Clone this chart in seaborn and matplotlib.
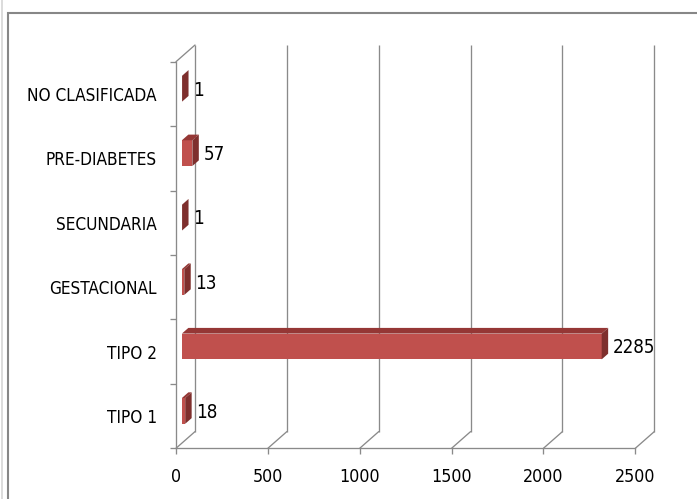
import matplotlib
matplotlib.use("Agg")
import matplotlib.pyplot as plt
import matplotlib.transforms as mtransforms
from matplotlib.patches import Polygon, Rectangle
from matplotlib.lines import Line2D
import numpy as np
import pandas as pd
import seaborn as sns

# Cases by diabetes type
categories = ["NO CLASIFICADA", "PRE-DIABETES", "SECUNDARIA", "GESTACIONAL", "TIPO 2", "TIPO 1"]
counts = [1, 57, 1, 13, 2285, 18]
x_ticks = [0, 500, 1000, 1500, 2000, 2500]

sns.set_theme(style="white")
plt.rcParams["font.family"] = ["DejaVu Sans"]
plt.rcParams["font.stretch"] = "condensed"
plt.rcParams["text.color"] = "black"

W, H, DPI = 697, 499, 100
GRID = "#8a8a8a"
LW = 0.95
FRONT = "#C0504D"
TOP = "#953735"
SIDE = "#7E2F2D"

fig = plt.figure(figsize=(W / DPI, H / DPI), dpi=DPI)
fig.patch.set_facecolor("white")

# chart-area border (only its left and top edges fall inside the image)
fig.add_artist(Rectangle((8 / W, -0.1), 1.2, (1 - 13 / H) + 0.1,
                         transform=fig.transFigure, fill=False,
                         edgecolor="#878787", lw=1.5))
fig.add_artist(Line2D([1.5 / W, 1.5 / W], [0, 1], transform=fig.transFigure,
                      color="#d6d6d6", lw=1.2))

# front plane of the 3-D box
left_px, right_px, top_px, bot_px = 176, 635.3, 61.7, 448.3
ax = fig.add_axes([left_px / W, 1 - bot_px / H,
                   (right_px - left_px) / W, (bot_px - top_px) / H])
ax.set_facecolor("none")

df = pd.DataFrame({"tipo": categories, "casos": counts})
sns.barplot(data=df, x="casos", y="tipo", orient="h", order=categories,
            color=FRONT, saturation=1, width=0.40, ax=ax, zorder=4)

ax.set_xlim(0, 2500)
ax.set_ylim(5.5, -0.5)
ax.set_xlabel("")
ax.set_ylabel("")

for s in ("top", "right"):
    ax.spines[s].set_visible(False)
for s in ("left", "bottom"):
    ax.spines[s].set_color(GRID)
    ax.spines[s].set_linewidth(LW)

ax.set_xticks(x_ticks)
ax.set_xticklabels([str(t) for t in x_ticks])
ax.tick_params(axis="x", which="major", direction="out", length=4.3, width=LW,
               color=GRID, pad=10, labelsize=12.8, labelcolor="black", bottom=True)
ax.set_yticks(range(len(categories)))
ax.set_yticklabels(categories)
ax.set_yticks(np.arange(-0.5, len(categories), 1.0), minor=True)
ax.tick_params(axis="y", which="major", length=0, pad=13.9, labelsize=12.3,
               labelcolor="black", left=False)
ax.tick_params(axis="y", which="minor", direction="out", length=4.3, width=LW,
               color=GRID, left=True)

# depth of the box in pixels and the slab occupied by the bars
DX, DY = 19.0, 16.7
F0, F1 = 0.31, 0.65


def offset(f):
    return mtransforms.ScaledTranslation(f * DX / DPI, f * DY / DPI, fig.dpi_scale_trans)


def disp(v, c, f):
    x, y = ax.transData.transform((v, c))
    return (x + f * DX, y + f * DY)


ident = mtransforms.IdentityTransform()
blend = mtransforms.blended_transform_factory(ax.transData, ax.transAxes)

# back wall gridlines
for t in x_ticks:
    ax.plot([t, t], [0, 1], transform=blend + offset(1.0), color=GRID, lw=LW,
            clip_on=False, zorder=1, solid_capstyle="butt")

# floor receding lines
for t in x_ticks:
    p0 = disp(t, 5.5, 0)
    p1 = disp(t, 5.5, 1)
    ax.add_line(Line2D([p0[0], p1[0]], [p0[1], p1[1]], transform=ident,
                       color=GRID, lw=LW, clip_on=False, zorder=1))

# side wall top edge
p0 = disp(0, -0.5, 0)
p1 = disp(0, -0.5, 1)
ax.add_line(Line2D([p0[0], p1[0]], [p0[1], p1[1]], transform=ident,
                   color=GRID, lw=LW, clip_on=False, zorder=1))

# extrude the bars
for bar in list(ax.patches):
    bar.set_transform(ax.transData + offset(F0))
    bar.set_clip_on(False)
    bar.set_edgecolor("none")
    x0 = bar.get_x()
    x1 = x0 + bar.get_width()
    ya = bar.get_y()
    yb = ya + bar.get_height()
    ytop, ybot = min(ya, yb), max(ya, yb)
    side = [disp(x1, ytop, F0), disp(x1, ybot, F0), disp(x1, ybot, F1), disp(x1, ytop, F1)]
    top = [disp(x0, ytop, F0), disp(x1, ytop, F0), disp(x1, ytop, F1), disp(x0, ytop, F1)]
    ax.add_patch(Polygon(top, closed=True, transform=ident, facecolor=TOP,
                         edgecolor="none", clip_on=False, zorder=4))
    ax.add_patch(Polygon(side, closed=True, transform=ident, facecolor=SIDE,
                         edgecolor="none", clip_on=False, zorder=4))

# value labels
for i, v in enumerate(counts):
    ax.annotate(str(v), xy=(v, i), xytext=(17, 3.8), textcoords="offset pixels",
                ha="left", va="center", fontsize=13.5, color="black",
                annotation_clip=False, zorder=5)

fig.savefig("out.png", dpi=DPI, facecolor="white")
